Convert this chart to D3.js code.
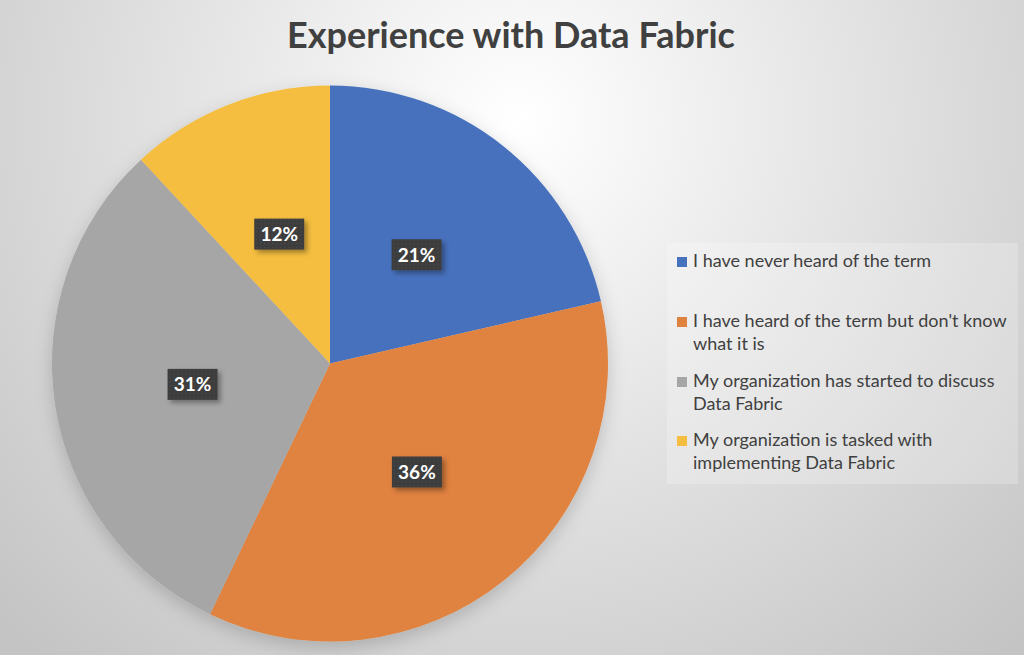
<!DOCTYPE html>
<html>
<head>
<meta charset="utf-8">
<script src="https://cdn.jsdelivr.net/npm/d3@7"></script>
<style>
  html, body { margin: 0; padding: 0; }
  body { width: 1024px; height: 655px; overflow: hidden; }
</style>
</head>
<body>
<div id="viz"></div>
<script>
const categories = [
  'I have never heard of the term',
  "I have heard of the term but don't know what it is",
  'My organization has started to discuss Data Fabric',
  'My organization is tasked with implementing Data Fabric',
];
// legend text as wrapped in the picture
const legendLines = [
  ['I have never heard of the term'],
  ["I have heard of the term but don't know", 'what it is'],
  ['My organization has started to discuss', 'Data Fabric'],
  ['My organization is tasked with', 'implementing Data Fabric'],
];
const shares = [21.4, 35.7, 31.0, 11.9];
const sliceColors = ['#4671bd', '#e0823f', '#a6a6a6', '#f5be41'];
const title = 'Experience with Data Fabric';

const width = 1024;
const height = 655;
const font = 'Lato, "Open Sans", sans-serif';
const cx = 330, cy = 363.5, radius = 278;

const svg = d3.select('#viz').append('svg')
  .attr('width', width)
  .attr('height', height);

const defs = svg.append('defs');

// background: light centre fading to grey at the edges
const bg = defs.append('radialGradient')
  .attr('id', 'bg')
  .attr('gradientUnits', 'userSpaceOnUse')
  .attr('cx', 520).attr('cy', 120).attr('r', 720);
bg.append('stop').attr('offset', '0%').attr('stop-color', '#ffffff');
bg.append('stop').attr('offset', '100%').attr('stop-color', '#c4c4c4');

const shadow = defs.append('filter')
  .attr('id', 'pieShadow')
  .attr('x', '-20%').attr('y', '-20%').attr('width', '140%').attr('height', '140%');
shadow.append('feDropShadow')
  .attr('dx', 0).attr('dy', 6).attr('stdDeviation', 9)
  .attr('flood-color', '#000').attr('flood-opacity', 0.18);

const boxShadow = defs.append('filter')
  .attr('id', 'boxShadow')
  .attr('x', '-30%').attr('y', '-30%').attr('width', '170%').attr('height', '170%');
boxShadow.append('feDropShadow')
  .attr('dx', 3).attr('dy', 3).attr('stdDeviation', 2.5)
  .attr('flood-color', '#000').attr('flood-opacity', 0.35);

// dotted texture of the label boxes
const dots = defs.append('pattern')
  .attr('id', 'dots')
  .attr('patternUnits', 'userSpaceOnUse')
  .attr('width', 4).attr('height', 4);
dots.append('rect').attr('width', 4).attr('height', 4).attr('fill', '#3e3e3e');
dots.append('rect').attr('x', 1).attr('y', 1).attr('width', 1).attr('height', 1).attr('fill', '#4d4d4d');

svg.append('rect')
  .attr('width', width)
  .attr('height', height)
  .attr('fill', 'url(#bg)');

// title
svg.append('text')
  .attr('x', 511)
  .attr('y', 48)
  .attr('text-anchor', 'middle')
  .style('font-family', font)
  .style('font-weight', 700)
  .style('font-size', '36px')
  .style('fill', '#404040')
  .text(title);

// pie
const pie = d3.pie().sort(null).value(d => d);
const arc = d3.arc().innerRadius(0).outerRadius(radius);
const labelArc = d3.arc().innerRadius(radius * 0.5).outerRadius(radius * 0.5);
const arcs = pie(shares);

const g = svg.append('g').attr('transform', `translate(${cx},${cy})`);

g.append('g')
  .attr('filter', 'url(#pieShadow)')
  .selectAll('path')
  .data(arcs)
  .join('path')
  .attr('d', arc)
  .attr('fill', (d, i) => sliceColors[i]);

// data labels
const labels = g.append('g')
  .selectAll('g')
  .data(arcs)
  .join('g')
  .attr('transform', d => `translate(${labelArc.centroid(d)})`);

labels.append('rect')
  .attr('x', -25).attr('y', -15.5)
  .attr('width', 50).attr('height', 31)
  .attr('fill', 'url(#dots)')
  .attr('filter', 'url(#boxShadow)');

labels.append('text')
  .attr('text-anchor', 'middle')
  .attr('dy', '0.36em')
  .style('font-family', font)
  .style('font-weight', 700)
  .style('font-size', '19px')
  .style('fill', '#ffffff')
  .text(d => Math.round(d.data) + '%');

// legend
const legend = svg.append('g');
legend.append('rect')
  .attr('x', 667).attr('y', 243)
  .attr('width', 351).attr('height', 241)
  .attr('fill', '#ffffff').attr('fill-opacity', 0.22);

const entryY = [267, 327, 387, 446];
const items = legend.selectAll('g.item')
  .data(categories)
  .join('g')
  .attr('class', 'item')
  .attr('transform', (d, i) => `translate(677,${entryY[i]})`);

items.append('rect')
  .attr('x', 0).attr('y', -10)
  .attr('width', 10).attr('height', 10)
  .attr('fill', (d, i) => sliceColors[i]);

items.append('text')
  .style('font-family', font)
  .style('font-size', '18px')
  .style('fill', '#404040')
  .selectAll('tspan')
  .data((d, i) => legendLines[i])
  .join('tspan')
  .attr('x', 16)
  .attr('y', (d, j) => j * 22.5)
  .text(d => d);
</script>
</body>
</html>
